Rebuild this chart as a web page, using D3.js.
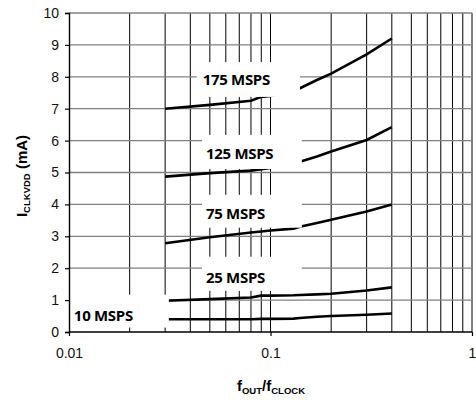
<!DOCTYPE html>
<html>
<head>
<meta charset="utf-8">
<script src="https://cdn.jsdelivr.net/npm/d3@7"></script>
<style>
	body { margin: 0; background: #fff; }
	figure { margin: 0; }
	svg { display: block; }
</style>
</head>
<body>
<figure id="clkchart"></figure>
<script>
// f_OUT / f_CLOCK sample points shared by all curves
const ratios = [0.03, 0.05, 0.08, 0.09, 0.1, 0.13, 0.14, 0.17, 0.2, 0.3, 0.4];

// I_CLKVDD (mA) per clock rate
const msps175 = [7.0, 7.12, 7.25, 7.37, 7.40, 7.55, 7.64, 7.90, 8.1, 8.7, 9.2];
const msps125 = [4.87, 4.98, 5.06, 5.10, 5.14, 5.25, 5.34, 5.50, 5.66, 6.02, 6.42];
const msps75 = [2.78, 2.97, 3.12, 3.15, 3.18, 3.24, 3.30, 3.42, 3.52, 3.78, 4.0];
const msps25 = [0.98, 1.03, 1.08, 1.14, 1.14, 1.15, 1.16, 1.18, 1.20, 1.30, 1.40];
const msps10 = [0.40, 0.40, 0.40, 0.41, 0.41, 0.42, 0.44, 0.48, 0.50, 0.54, 0.58];

const seriesNames = ["175 MSPS", "125 MSPS", "75 MSPS", "25 MSPS", "10 MSPS"];
const seriesValues = [msps175, msps125, msps75, msps25, msps10];

const xTicks = [0.01, 0.1, 1];
const yTicks = [0, 1, 2, 3, 4, 5, 6, 7, 8, 9, 10];

class ClockCurrentChart {

	constructor() {
		this.width = 476;
		this.height = 400;
		this.left = 69;
		this.right = 472;
		this.top = 13;
		this.bottom = 332;
	}

	init() {
		this.svg = d3.select("figure#clkchart").append("svg")
			.attr("width", this.width)
			.attr("height", this.height);
		this.xScale = d3.scaleLog().domain([0.01, 1]).range([this.left, this.right]);
		this.yScale = d3.scaleLinear().domain([0, 10]).range([this.bottom, this.top]);
	}

	draw() {
		const svg = this.svg;
		const x = this.xScale, y = this.yScale;

		// grid
		const minor = [];
		[0.01, 0.1].forEach((dec) => {
			for (let i = 1; i <= 9; i++) minor.push(dec * i);
		});
		minor.push(1);
		svg.append("g").selectAll("line")
			.data(minor.filter((d) => d > 0.0101))
			.enter().append("line")
			.attr("x1", (d) => x(d)).attr("x2", (d) => x(d))
			.attr("y1", this.top).attr("y2", this.bottom)
			.attr("stroke", "#000").attr("stroke-width", 1);
		svg.append("g").selectAll("line")
			.data(yTicks.filter((d) => d > 0))
			.enter().append("line")
			.attr("x1", this.left).attr("x2", this.right)
			.attr("y1", (d) => y(d)).attr("y2", (d) => y(d))
			.attr("stroke", "#808080").attr("stroke-width", 1.3);

		// curves
		const line = d3.line()
			.x((d) => x(d[0]))
			.y((d) => y(d[1]));
		svg.append("g").selectAll("path")
			.data(seriesValues)
			.enter().append("path")
			.attr("d", (vals) => line(vals.map((v, i) => [ratios[i], v])))
			.attr("fill", "none")
			.attr("stroke", "#000")
			.attr("stroke-width", 2.6);

		// label boxes, in data units: [f0, f1, iTop, iBottom, iBaseline]
		const boxes = [
			[0.043, 0.14, 8.46, 7.37, 7.75],
			[0.0457, 0.143, 6.18, 5.11, 5.43],
			[0.0457, 0.143, 4.30, 3.27, 3.55],
			[0.0457, 0.143, 2.36, 1.29, 1.54],
			[0.0101, 0.0313, 1.17, 0.14, 0.36]
		];
		const lg = svg.append("g").selectAll("g")
			.data(boxes)
			.enter().append("g");
		lg.append("rect")
			.attr("x", (b) => x(b[0]))
			.attr("y", (b) => y(b[2]))
			.attr("width", (b) => x(b[1]) - x(b[0]))
			.attr("height", (b) => y(b[3]) - y(b[2]))
			.attr("fill", "#fff");
		lg.append("text")
			.attr("x", (b, i) => x(b[0]) + (i === 0 ? 6 : 4))
			.attr("y", (b) => y(b[4]))
			.attr("font-family", "'Open Sans', sans-serif")
			.attr("font-weight", 700)
			.attr("font-size", "15px")
			.attr("letter-spacing", "-0.3px")
			.attr("fill", "#000")
			.text((b, i) => seriesNames[i]);

		// axes
		const yAxis = svg.append("g")
			.attr("transform", `translate(${this.left},0)`)
			.call(d3.axisLeft(y).tickValues(yTicks).tickSize(4).tickPadding(6));
		const xAxis = svg.append("g")
			.attr("transform", `translate(0,${this.bottom})`)
			.call(d3.axisBottom(x).tickValues(xTicks).tickSize(4).tickPadding(12)
				.tickFormat((d) => d3.format("~g")(d)));
		[xAxis, yAxis].forEach((a) => {
			a.select(".domain").attr("stroke", "#000").attr("stroke-width", 1.4);
			a.selectAll(".tick line").attr("stroke", "#000").attr("stroke-width", 1.2);
			a.selectAll(".tick text")
				.attr("font-family", "'Liberation Sans', Arial, sans-serif")
				.attr("font-size", "14px")
				.attr("fill", "#111");
		});
		xAxis.select(".domain").attr("d", `M${this.left},0H${this.right}`);

		// axis titles
		const xt = svg.append("text")
			.attr("x", 271).attr("y", 391)
			.attr("text-anchor", "middle")
			.attr("font-family", "'Liberation Sans', Arial, sans-serif")
			.attr("font-weight", 700)
			.attr("font-size", "15px");
		xt.append("tspan").text("f");
		xt.append("tspan").attr("dy", 3).attr("font-size", "9.5px").text("OUT");
		xt.append("tspan").attr("dy", -3).text("/f");
		xt.append("tspan").attr("dy", 3).attr("font-size", "9.5px").text("CLOCK");

		const yt = svg.append("text")
			.attr("transform", "translate(27,176) rotate(-90)")
			.attr("text-anchor", "middle")
			.attr("font-family", "'Liberation Sans', Arial, sans-serif")
			.attr("font-weight", 700)
			.attr("font-size", "15px");
		yt.append("tspan").text("I");
		yt.append("tspan").attr("dy", 3).attr("font-size", "9.5px").text("CLKVDD");
		yt.append("tspan").attr("dy", -3).text(" (mA)");
	}
}

const chart = new ClockCurrentChart();
chart.init();
chart.draw();
</script>
</body>
</html>
